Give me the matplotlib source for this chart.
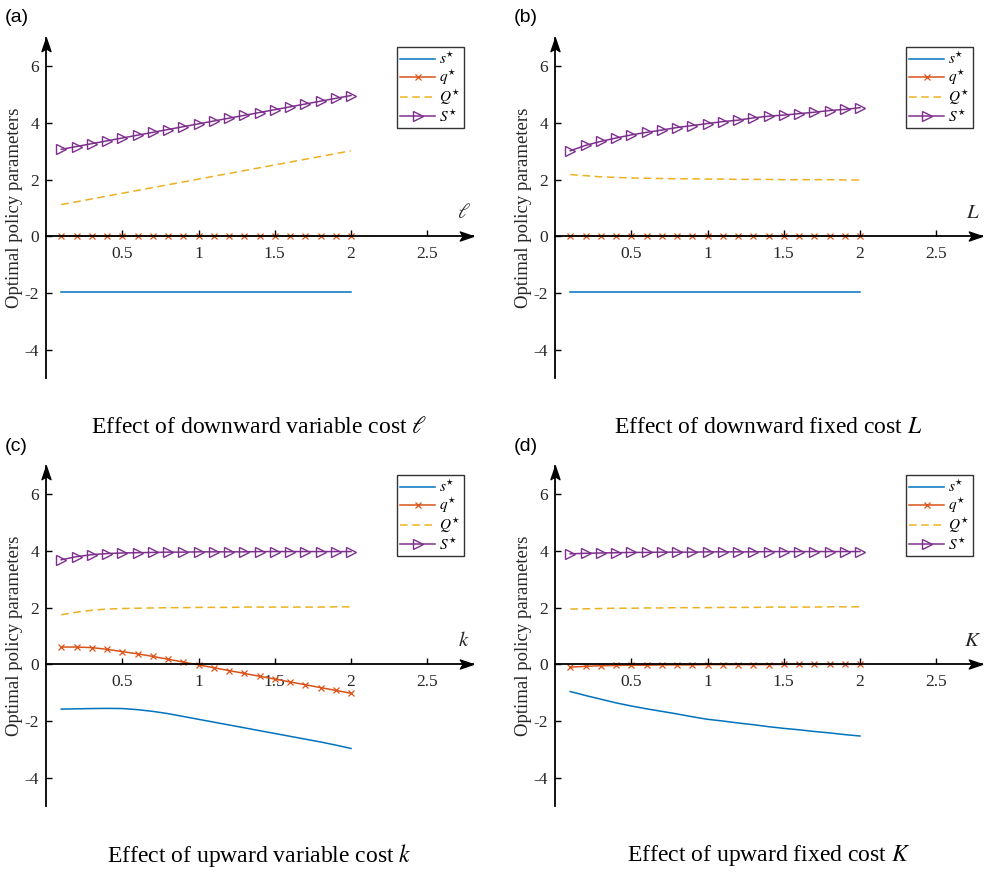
import numpy as np
import matplotlib
matplotlib.use("Agg")
from matplotlib import pyplot as plt
from matplotlib.path import Path

plt.rcParams['font.family'] = ['Liberation Serif', 'DejaVu Serif']
plt.rcParams['mathtext.fontset'] = 'stix'
plt.rcParams['axes.unicode_minus'] = False

# cost values on the x axis
x_vals = [0.1, 0.2, 0.3, 0.4, 0.5, 0.6, 0.7, 0.8, 0.9, 1.0,
          1.1, 1.2, 1.3, 1.4, 1.5, 1.6, 1.7, 1.8, 1.9, 2.0]

# (a) downward variable cost l
a_s = [-1.95, -1.95, -1.95, -1.95, -1.95, -1.95, -1.95, -1.95, -1.95, -1.95,
       -1.95, -1.95, -1.95, -1.95, -1.95, -1.95, -1.95, -1.95, -1.95, -1.95]
a_q = [0.0, 0.0, 0.0, 0.0, 0.0, 0.0, 0.0, 0.0, 0.0, 0.0,
       0.0, 0.0, 0.0, 0.0, 0.0, 0.0, 0.0, 0.0, 0.0, 0.0]
a_Q = [1.12, 1.22, 1.32, 1.42, 1.52, 1.62, 1.72, 1.82, 1.92, 2.02,
       2.12, 2.22, 2.32, 2.42, 2.52, 2.62, 2.72, 2.82, 2.92, 3.02]
a_S = [3.07, 3.17, 3.27, 3.37, 3.47, 3.57, 3.67, 3.77, 3.87, 3.97,
       4.07, 4.17, 4.27, 4.37, 4.47, 4.57, 4.67, 4.77, 4.87, 4.97]

# (b) downward fixed cost L
b_s = [-1.95, -1.95, -1.95, -1.95, -1.95, -1.95, -1.95, -1.95, -1.95, -1.95,
       -1.95, -1.95, -1.95, -1.95, -1.95, -1.95, -1.95, -1.95, -1.95, -1.95]
b_q = [0.0, 0.0, 0.0, 0.0, 0.0, 0.0, 0.0, 0.0, 0.0, 0.0,
       0.0, 0.0, 0.0, 0.0, 0.0, 0.0, 0.0, 0.0, 0.0, 0.0]
b_Q = [2.18, 2.14, 2.10, 2.08, 2.06, 2.05, 2.04, 2.03, 2.03, 2.02,
       2.02, 2.01, 2.01, 2.01, 2.00, 2.00, 2.00, 2.00, 1.99, 1.99]
b_S = [3.02, 3.21, 3.35, 3.47, 3.58, 3.67, 3.75, 3.84, 3.91, 3.98,
       4.05, 4.10, 4.18, 4.24, 4.28, 4.33, 4.38, 4.44, 4.48, 4.54]

# (c) upward variable cost k
c_s = [-1.58, -1.57, -1.56, -1.555, -1.56, -1.60, -1.66, -1.74, -1.84, -1.94,
       -2.04, -2.14, -2.24, -2.34, -2.44, -2.54, -2.64, -2.74, -2.85, -2.97]
c_q = [0.61, 0.61, 0.59, 0.53, 0.45, 0.37, 0.28, 0.18, 0.08, -0.02,
       -0.12, -0.22, -0.32, -0.42, -0.52, -0.62, -0.72, -0.82, -0.92, -1.02]
c_Q = [1.75, 1.84, 1.91, 1.95, 1.97, 1.98, 1.99, 2.00, 2.00, 2.01,
       2.01, 2.01, 2.02, 2.02, 2.02, 2.02, 2.02, 2.02, 2.03, 2.03]
c_S = [3.69, 3.80, 3.87, 3.91, 3.93, 3.94, 3.95, 3.96, 3.96, 3.97,
       3.97, 3.97, 3.97, 3.98, 3.98, 3.98, 3.98, 3.98, 3.98, 3.98]

# (d) upward fixed cost K
d_s = [-0.96, -1.10, -1.23, -1.36, -1.47, -1.57, -1.66, -1.75, -1.85, -1.94,
       -2.00, -2.07, -2.13, -2.20, -2.26, -2.31, -2.37, -2.42, -2.48, -2.53]
d_q = [-0.10, -0.07, -0.05, -0.04, -0.03, -0.03, -0.02, -0.02, -0.02, -0.01,
       -0.01, -0.01, -0.01, -0.01, 0.00, 0.00, 0.00, 0.00, 0.00, 0.00]
d_Q = [1.95, 1.96, 1.97, 1.98, 1.98, 1.99, 1.99, 2.00, 2.00, 2.00,
       2.01, 2.01, 2.01, 2.02, 2.02, 2.02, 2.02, 2.03, 2.03, 2.03]
d_S = [3.90, 3.92, 3.93, 3.94, 3.95, 3.95, 3.96, 3.96, 3.96, 3.97,
       3.97, 3.97, 3.97, 3.98, 3.98, 3.98, 3.98, 3.98, 3.98, 3.98]

panels = [
    ('(a)', r'$\ell$', r'Effect of downward variable cost $\ell$', a_s, a_q, a_Q, a_S),
    ('(b)', r'$L$', r'Effect of downward fixed cost $L$', b_s, b_q, b_Q, b_S),
    ('(c)', r'$k$', r'Effect of upward variable cost $k$', c_s, c_q, c_Q, c_S),
    ('(d)', r'$K$', r'Effect of upward fixed cost $K$', d_s, d_q, d_Q, d_S),
]

series_labels = [r'$s^{\star}$', r'$q^{\star}$', r'$Q^{\star}$', r'$S^{\star}$']
colors = ['#0072BD', '#D95319', '#EDB120', '#7E2F8E']

# arrow heads with the tip at the marker origin
arrow_r = Path([(0, 0), (-1, 0.34), (-0.78, 0), (-1, -0.34), (0, 0)],
               [Path.MOVETO, Path.LINETO, Path.LINETO, Path.LINETO, Path.CLOSEPOLY])
arrow_u = Path([(0, 0), (0.34, -1), (0, -0.78), (-0.34, -1), (0, 0)],
               [Path.MOVETO, Path.LINETO, Path.LINETO, Path.LINETO, Path.CLOSEPOLY])

W, H = 988, 872
fig = plt.figure(figsize=(W / 100, H / 100), dpi=100)

# (left px of y axis, bottom px of axes)
pos = [(46, 378), (555, 378), (46, 806), (555, 806)]
ax_w, ax_h = 427, 340

for (lab, var, title, s, q, Q, S), (px, py) in zip(panels, pos):
    ax = fig.add_axes([px / W, 1 - py / H, ax_w / W, ax_h / H])
    ax.patch.set_alpha(0)
    ax.plot(x_vals, s, color=colors[0], lw=1.1, label=series_labels[0])
    ax.plot(x_vals, q, color=colors[1], lw=1.1, marker='x', ms=4.5, mew=0.9,
            label=series_labels[1])
    ax.plot(x_vals, Q, color=colors[2], lw=1.1, ls=(0, (5, 3)), label=series_labels[2])
    ax.plot(x_vals, S, color=colors[3], lw=1.1, marker='>', ms=7, mfc='none',
            mew=1.0, label=series_labels[3])

    ax.set_xlim(0, 2.8)
    ax.set_ylim(-5, 7.0)
    ax.spines['top'].set_visible(False)
    ax.spines['right'].set_visible(False)
    ax.spines['bottom'].set_position(('data', 0))
    ax.spines['left'].set_linewidth(1.3)
    ax.spines['bottom'].set_linewidth(1.3)
    ax.set_xticks([0.5, 1, 1.5, 2, 2.5])
    ax.set_xticklabels(['0.5', '1', '1.5', '2', '2.5'])
    ax.set_yticks([-4, -2, 0, 2, 4, 6])
    ax.tick_params(direction='in', length=4, width=1, labelsize=12.5,
                   labelcolor='#262626', pad=5)
    ax.tick_params(axis='x', pad=7)

    # arrow heads
    ax.plot(1.0, 0, marker=arrow_r, ms=19, color='k',
            transform=ax.get_yaxis_transform(), clip_on=False)
    ax.plot(0, 1.0, marker=arrow_u, ms=19, color='k',
            transform=ax.get_xaxis_transform(), clip_on=False)

    ax.text(2.74, 0.8, var, fontsize=15, ha='center', va='center', color='#262626')
    ax.set_ylabel('Optimal policy parameters', fontsize=13.5, color='#262626', labelpad=1)
    ax.text(0.5, -0.145, title, transform=ax.transAxes, fontsize=17,
            ha='center', va='center')
    fig.text((px - 41) / W, 1 - 18 / H - (0 if py < 400 else 428 / H), lab,
             fontsize=14, family=['Liberation Sans', 'DejaVu Sans'],
             ha='left', va='center')

    leg = ax.legend(loc='upper right', bbox_to_anchor=(0.979, 0.974), borderaxespad=0,
                    fancybox=False, edgecolor='k', fontsize=11, handlelength=2.3,
                    labelspacing=0.05, borderpad=0.25, handletextpad=0.2)
    leg.get_frame().set_linewidth(1.0)

fig.savefig('out.png', dpi=100)
